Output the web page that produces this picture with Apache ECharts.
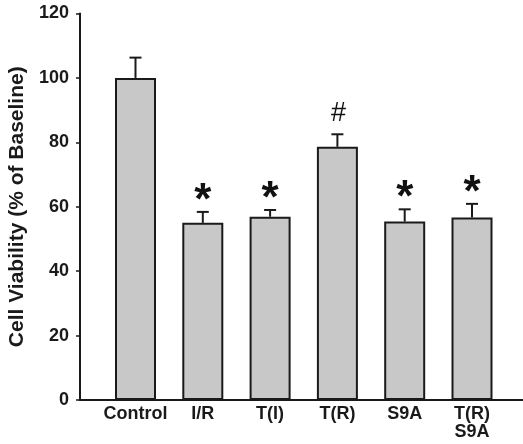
<!DOCTYPE html>
<html>
<head>
<meta charset="utf-8">
<script src="https://cdn.jsdelivr.net/npm/echarts@6/dist/echarts.min.js"></script>
<style>html,body{margin:0;padding:0;background:#fff;}#c{width:523px;height:444px;}</style>
</head>
<body>
<div id="c"></div>
<script>
var categories = ['Control', 'I/R', 'T(I)', 'T(R)', 'S9A', 'T(R)\nS9A'];
var means = [100, 55.0, 56.9, 78.6, 55.4, 56.7];
var errors = [6.3, 3.4, 2.1, 3.9, 3.8, 4.2];
var marks = ['', '*', '*', '#', '*', '*'];
var yTicks = [0, 20, 40, 60, 80, 100, 120];

var chart = echarts.init(document.getElementById('c'), null, {renderer: 'canvas'});
var font = 'Arial, "Liberation Sans", sans-serif';
var errData = categories.map(function (c, i) { return [i, means[i], means[i] + errors[i], marks[i]]; });

chart.setOption({
  animation: false,
  grid: [
    {left: 101.85, right: 17.35, top: 13.5, bottom: 44, outerBoundsMode: 'none', containLabel: false},
    {left: 80, right: 0, top: 13.5, bottom: 44, outerBoundsMode: 'none', containLabel: false}
  ],
  xAxis: [
    {
      type: 'category', gridIndex: 0, data: categories,
      axisLine: {show: false}, axisTick: {show: false},
      axisLabel: {interval: 0, color: '#1a1a1a', fontWeight: 'bold', fontSize: 18, fontFamily: font, margin: 5, lineHeight: 18}
    },
    {
      type: 'value', gridIndex: 1, min: 0, max: 1,
      axisLine: {show: true, lineStyle: {color: '#1a1a1a', width: 2}},
      axisTick: {show: false}, axisLabel: {show: false}, splitLine: {show: false}
    }
  ],
  yAxis: [
    {
      type: 'value', gridIndex: 0, min: 0, max: 120, interval: 20, offset: 21.85,
      name: 'Cell Viability (% of Baseline)', nameLocation: 'middle', nameGap: 46,
      nameTextStyle: {color: '#1a1a1a', fontWeight: 'bold', fontSize: 21, fontFamily: font},
      axisLine: {show: true, lineStyle: {color: '#1a1a1a', width: 2}},
      axisTick: {show: true, length: 4, inside: false, lineStyle: {color: '#1a1a1a', width: 1.5}},
      axisLabel: {color: '#1a1a1a', fontWeight: 'bold', fontSize: 18, fontFamily: font, margin: 11,
        formatter: function (v) { return yTicks.indexOf(v) >= 0 ? String(v) : ''; }},
      splitLine: {show: false}
    },
    {
      type: 'value', gridIndex: 1, min: 0, max: 120, show: false
    }
  ],
  series: [
    {
      type: 'bar', xAxisIndex: 0, yAxisIndex: 0, data: means, barWidth: 41,
      itemStyle: {color: '#c8c8c8', borderColor: '#1a1a1a', borderWidth: 2}
    },
    {
      type: 'custom', xAxisIndex: 0, yAxisIndex: 0, data: errData, z: 3,
      renderItem: function (params, api) {
        var x = api.coord([api.value(0), api.value(1)])[0];
        var y0 = api.coord([api.value(0), api.value(1)])[1];
        var y1 = api.coord([api.value(0), api.value(2)])[1];
        var mk = marks[params.dataIndex];
        var ls = {stroke: '#1a1a1a', lineWidth: 2};
        var children = [
          {type: 'line', shape: {x1: x, y1: y0, x2: x, y2: y1}, style: ls},
          {type: 'line', shape: {x1: x - 6, y1: y1, x2: x + 6, y2: y1}, style: ls}
        ];
        if (mk === '*') {
          children.push({type: 'text', style: {text: '*', x: x, y: y1 + 12, textAlign: 'center', textVerticalAlign: 'bottom',
            font: 'bold 44px ' + font, fill: '#111'}});
        } else if (mk === '#') {
          children.push({type: 'text', style: {text: '#', x: x + 1, y: y1 - 7, textAlign: 'center', textVerticalAlign: 'bottom',
            font: 'normal 27px ' + font, fill: '#111'}});
        }
        return {type: 'group', children: children};
      }
    }
  ]
});
</script>
</body>
</html>
